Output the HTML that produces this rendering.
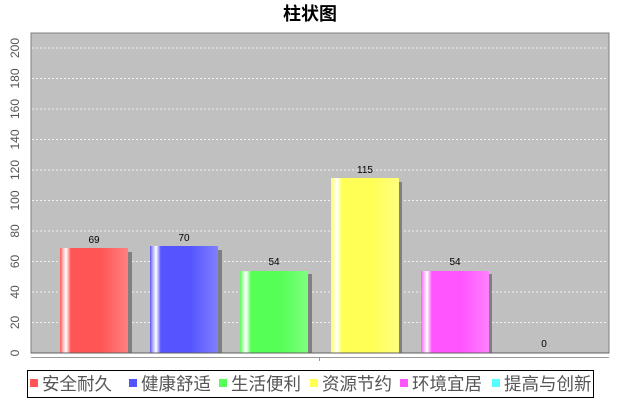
<!DOCTYPE html>
<html><head><meta charset="utf-8"><style>
html,body{margin:0;padding:0;background:#fff;width:620px;height:400px;overflow:hidden}
svg text{font-family:"Liberation Sans","Noto Sans CJK SC",sans-serif}
</style></head><body>
<svg width="620" height="400" xmlns="http://www.w3.org/2000/svg">
<defs>
<linearGradient id="gr" x1="0" x2="1"><stop offset="0" stop-color="#ff5555"/><stop offset="0.04" stop-color="#ffb0b0"/><stop offset="0.09" stop-color="#ffffff"/><stop offset="0.16" stop-color="#ff5555"/><stop offset="0.6" stop-color="#ff5555"/><stop offset="1" stop-color="#ff8080"/></linearGradient>
<linearGradient id="gb" x1="0" x2="1"><stop offset="0" stop-color="#5555ff"/><stop offset="0.04" stop-color="#b0b0ff"/><stop offset="0.09" stop-color="#ffffff"/><stop offset="0.16" stop-color="#5555ff"/><stop offset="0.6" stop-color="#5555ff"/><stop offset="1" stop-color="#8080ff"/></linearGradient>
<linearGradient id="gg" x1="0" x2="1"><stop offset="0" stop-color="#55ff55"/><stop offset="0.04" stop-color="#b0ffb0"/><stop offset="0.09" stop-color="#ffffff"/><stop offset="0.16" stop-color="#55ff55"/><stop offset="0.6" stop-color="#55ff55"/><stop offset="1" stop-color="#80ff80"/></linearGradient>
<linearGradient id="gy" x1="0" x2="1"><stop offset="0" stop-color="#ffff55"/><stop offset="0.04" stop-color="#ffffb0"/><stop offset="0.09" stop-color="#ffffff"/><stop offset="0.16" stop-color="#ffff55"/><stop offset="0.6" stop-color="#ffff55"/><stop offset="1" stop-color="#ffff80"/></linearGradient>
<linearGradient id="gm" x1="0" x2="1"><stop offset="0" stop-color="#ff55ff"/><stop offset="0.04" stop-color="#ffb0ff"/><stop offset="0.09" stop-color="#ffffff"/><stop offset="0.16" stop-color="#ff55ff"/><stop offset="0.6" stop-color="#ff55ff"/><stop offset="1" stop-color="#ff80ff"/></linearGradient>
</defs>
<text x="310" y="20" text-anchor="middle" font-size="18" font-weight="bold">柱状图</text>
<rect x="31" y="33" width="578" height="320" fill="#c0c0c0" stroke="#808080" stroke-width="1"/>
<g stroke="#ffffff" stroke-width="0.8" stroke-dasharray="2,2">
<line x1="32" x2="608" y1="322.5" y2="322.5"/><line x1="32" x2="608" y1="292" y2="292"/><line x1="32" x2="608" y1="261.5" y2="261.5"/><line x1="32" x2="608" y1="231" y2="231"/><line x1="32" x2="608" y1="200.5" y2="200.5"/><line x1="32" x2="608" y1="170" y2="170"/><line x1="32" x2="608" y1="139.5" y2="139.5"/><line x1="32" x2="608" y1="109" y2="109"/><line x1="32" x2="608" y1="78.5" y2="78.5"/><line x1="32" x2="608" y1="48" y2="48"/>
</g>
<g fill="#808080">
<rect x="64" y="252" width="68" height="101"/><rect x="154" y="250" width="68" height="103"/><rect x="244" y="274" width="68" height="79"/><rect x="334" y="182" width="68" height="171"/><rect x="424" y="274" width="68" height="79"/>
</g>
<rect x="60" y="248" width="68" height="105" fill="url(#gr)"/>
<rect x="150" y="246" width="68" height="107" fill="url(#gb)"/>
<rect x="240" y="271" width="68" height="82" fill="url(#gg)"/>
<rect x="331" y="178" width="68" height="175" fill="url(#gy)"/>
<rect x="421" y="271" width="68" height="82" fill="url(#gm)"/>
<line x1="31" x2="609" y1="353" y2="353" stroke="#606060"/>
<g font-size="10" text-anchor="middle" fill="#000">
<text x="94" y="243">69</text><text x="184" y="241">70</text><text x="274" y="265">54</text><text x="365" y="173">115</text><text x="455" y="265">54</text><text x="544" y="347">0</text>
</g>
<line x1="31" x2="609" y1="357.5" y2="357.5" stroke="#999"/>
<line x1="319.5" x2="319.5" y1="357" y2="361" stroke="#999"/>
<g font-size="12" fill="#555" text-anchor="middle">
<text transform="translate(19,353) rotate(-90)">0</text>
<text transform="translate(19,322.5) rotate(-90)">20</text>
<text transform="translate(19,292) rotate(-90)">40</text>
<text transform="translate(19,261.5) rotate(-90)">60</text>
<text transform="translate(19,231) rotate(-90)">80</text>
<text transform="translate(19,200.5) rotate(-90)">100</text>
<text transform="translate(19,170) rotate(-90)">120</text>
<text transform="translate(19,139.5) rotate(-90)">140</text>
<text transform="translate(19,109) rotate(-90)">160</text>
<text transform="translate(19,78.5) rotate(-90)">180</text>
<text transform="translate(19,48) rotate(-90)">200</text>
</g>
<rect x="27.5" y="370.5" width="566" height="27" fill="#fff" stroke="#000"/>
<g font-size="17.5" fill="#555">
<rect x="30" y="379" width="8" height="8" fill="#ff5555"/><text x="42" y="390">安全耐久</text>
<rect x="129" y="379" width="8" height="8" fill="#5555ff"/><text x="141" y="390">健康舒适</text>
<rect x="219" y="379" width="8" height="8" fill="#55ff55"/><text x="231" y="390">生活便利</text>
<rect x="310" y="379" width="8" height="8" fill="#ffff55"/><text x="322" y="390">资源节约</text>
<rect x="400" y="379" width="8" height="8" fill="#ff55ff"/><text x="412" y="390">环境宜居</text>
<rect x="492" y="379" width="8" height="8" fill="#55ffff"/><text x="504" y="390">提高与创新</text>
</g>
</svg>
</body></html>
